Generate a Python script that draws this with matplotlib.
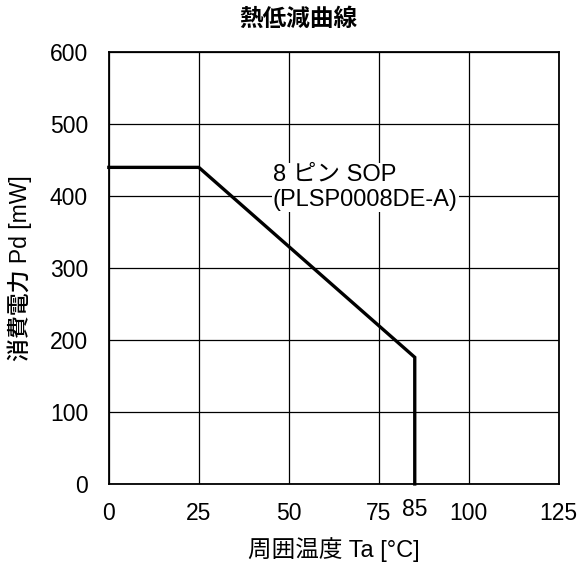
import matplotlib
matplotlib.use('Agg')
import matplotlib.pyplot as plt

plt.rcParams['font.family'] = ['Liberation Sans', 'Noto Sans CJK JP']

# derating curve, 8-pin SOP
temp = [0, 25, 85, 85]
power = [440, 440, 176, 0]
x_ticks = [0, 25, 50, 75, 100, 125]
y_ticks = [0, 100, 200, 300, 400, 500, 600]

fig = plt.figure(figsize=(5.82, 5.68), dpi=100)
ax = fig.add_axes([0.187, 0.148, 0.773, 0.760])

ax.plot(temp, power, color='black', lw=2.4, solid_joinstyle='miter', zorder=3, clip_on=False)

ax.set_xlim(0, 125)
ax.set_ylim(0, 600)
ax.set_xticks(x_ticks)
ax.set_yticks(y_ticks)
ax.set_xticks([85], minor=True)
ax.set_xticklabels(['85'], minor=True)
ax.tick_params(axis='both', which='both', length=0, labelsize=16.5)
ax.tick_params(axis='x', which='major', pad=13)
ax.tick_params(axis='x', which='minor', pad=10)
ax.tick_params(axis='y', pad=15)
ax.grid(True, which='major', color='black', lw=0.9)
ax.set_axisbelow(True)
for s in ax.spines.values():
    s.set_linewidth(1.3)

ax.text(45.6, 412, '8 ピン SOP\n(PLSP0008DE-A)', fontsize=17, va='center', ha='left',
        linespacing=1.2,
        bbox=dict(facecolor='white', edgecolor='none', pad=0.5), zorder=4)

fig.text(0.512, 0.966, '熱低減曲線', fontsize=17, fontweight='bold', ha='center', va='center')
ax.set_xlabel('周囲温度 Ta [°C]', fontsize=17, labelpad=9)
ax.set_ylabel('消費電力 Pd [mW]', fontsize=16.5, fontweight=500, labelpad=13)

fig.savefig('out.png', dpi=100)
